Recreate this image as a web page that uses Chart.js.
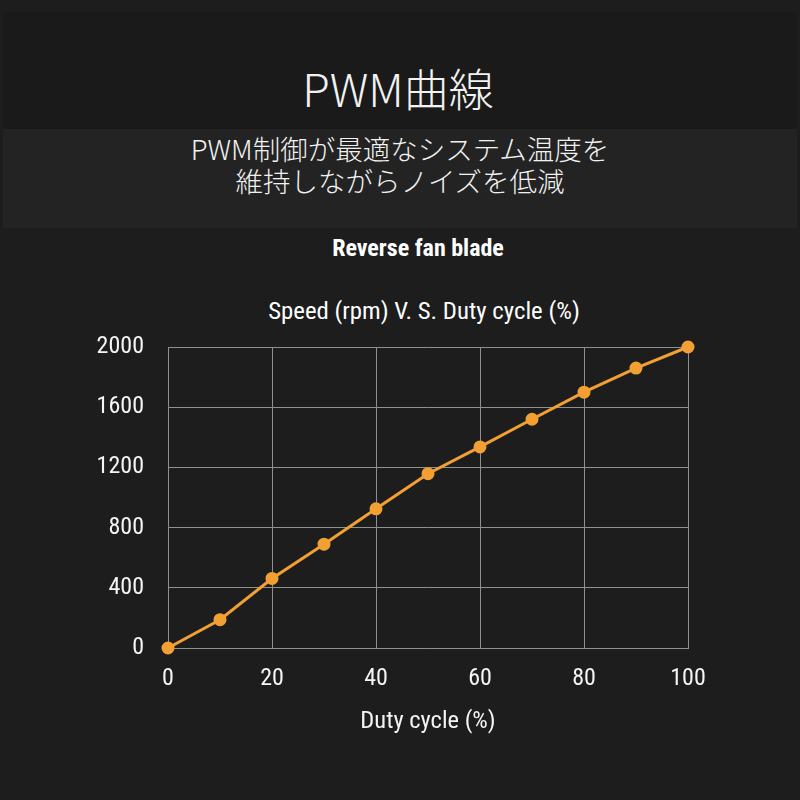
<!DOCTYPE html>
<html>
<head>
<meta charset="utf-8">
<script src="https://cdn.jsdelivr.net/npm/chart.js@4.4.1/dist/chart.umd.min.js"></script>
<style>
  html, body { margin: 0; padding: 0; background: #1e1e1e; }
  #page { position: relative; width: 800px; height: 800px; overflow: hidden; background: #1d1d1d; }
  .band1 { position: absolute; left: 3px; right: 3px; top: 12px; height: 117px; background: #1a1a1a; }
  .band2 { position: absolute; left: 3px; right: 3px; top: 129px; height: 99px; background: #232323; }
  .head { position: absolute; left: 0; width: 800px; text-align: center; color: #f2f2f2;
          font-family: "Noto Sans CJK JP", "Noto Sans", sans-serif; font-weight: 300; }
  #title { top: 58px; left: -2px; font-size: 45px; line-height: 60px; }
  #sub { top: 132px; font-size: 27.5px; line-height: 32px; }
  .ctitle { position: absolute; width: 800px; text-align: center; color: #ffffff;
            font-family: "Roboto Condensed", Roboto, sans-serif; line-height: 28px; }
  #ct1 { left: 18px; top: 234px; font-size: 24px; font-weight: bold; }
  #ct2 { left: 24px; top: 297px; font-size: 24.8px; }
  #wrap { position: absolute; left: 0; top: 0; width: 800px; height: 800px; }
</style>
</head>
<body>
<div id="page">
  <div class="band1"></div>
  <div class="band2"></div>
  <div class="head" id="title">PWM曲線</div>
  <div class="head" id="sub">PWM制御が最適なシステム温度を<br>維持しながらノイズを低減</div>
  <div class="ctitle" id="ct1">Reverse fan blade</div>
  <div class="ctitle" id="ct2">Speed (rpm) V. S. Duty cycle (%)</div>
  <div id="wrap"><canvas id="chart" width="800" height="800"></canvas></div>
</div>
<script>
// duty cycle (%) on x, fan speed (rpm) on y
const dutyCycle = [0, 10, 20, 30, 40, 50, 60, 70, 80, 90, 100];
const speedRpm = [0, 188, 462, 690, 925, 1158, 1336, 1520, 1700, 1860, 2000];
const yTicks = [0, 400, 800, 1200, 1600, 2000];
const xTicks = [0, 20, 40, 60, 80, 100];

const ORANGE = "#f2a033";
const GRID = "#909090";
const FONT = "'Roboto Condensed', Roboto, 'Liberation Sans', sans-serif";

Chart.defaults.color = "#f0f0f0";
Chart.defaults.font.family = FONT;

new Chart(document.getElementById("chart").getContext("2d"), {
  type: "line",
  data: {
    datasets: [{
      label: "Speed",
      data: dutyCycle.map((d, i) => ({ x: d, y: speedRpm[i] })),
      borderColor: ORANGE,
      backgroundColor: ORANGE,
      borderWidth: 3,
      pointRadius: 5,
      pointHoverRadius: 5,
      tension: 0,
      clip: false,
    }],
  },
  options: {
    responsive: false,
    animation: false,
    layout: { padding: { top: 347, left: 85, right: 112, bottom: 59 } },
    plugins: {
      legend: { display: false },
      tooltip: { enabled: false },
    },
    scales: {
      x: {
        type: "linear", min: 0, max: 100,
        afterBuildTicks: s => { s.ticks = xTicks.map(v => ({ value: v })); },
        afterFit: s => { s.height = 93; },
        grid: { color: GRID, drawTicks: false },
        border: { color: GRID },
        ticks: { padding: 17, font: { size: 24 }, color: "#f4f4f4", callback: v => String(v) },
        title: { display: true, text: "Duty cycle (%)", color: "#f4f4f4",
                 font: { size: 24.5, lineHeight: 1.2 }, padding: { top: 14, bottom: 4 } },
      },
      y: {
        type: "linear", min: 0, max: 2000,
        afterBuildTicks: s => { s.ticks = yTicks.map(v => ({ value: v })); },
        afterFit: s => { s.width = 83; },
        grid: { color: GRID, drawTicks: false },
        border: { color: GRID },
        ticks: { padding: 24, font: { size: 24 }, color: "#f4f4f4", callback: v => String(v) },
      },
    },
  },
});
</script>
</body>
</html>
